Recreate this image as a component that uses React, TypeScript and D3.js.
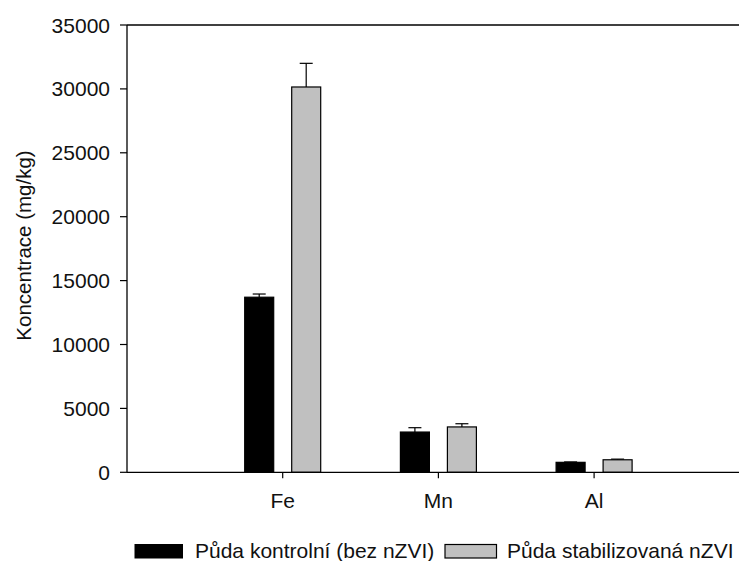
import React from "react";
import * as d3 from "d3";

const categories = ["Fe", "Mn", "Al"];
const controlValues = [13700, 3150, 780];
const controlErrors = [250, 340, 30];
const nzviValues = [30150, 3550, 980];
const nzviErrors = [1850, 250, 50];
const yTicks = [0, 5000, 10000, 15000, 20000, 25000, 30000, 35000];
const seriesNames = ["Půda kontrolní (bez nZVI)", "Půda stabilizovaná nZVI"];
const seriesColors = ["#000000", "#c0c0c0"];

export default function App() {
  const W = 739, H = 561;
  const left = 127, top = 25, bottom = 472.3;
  const font = "'Liberation Sans', Arial, sans-serif";
  const y = d3.scaleLinear().domain([0, 35000]).range([bottom, top]);
  const x = d3.scaleLinear().domain([0, 4]).range([left, left + 4 * 155.7]);
  const barW = 29;
  const off = 23.5;
  const capW = 13;
  const series = [
    { vals: controlValues, errs: controlErrors, color: seriesColors[0], dx: -off },
    { vals: nzviValues, errs: nzviErrors, color: seriesColors[1], dx: off },
  ];
  return (
    <svg width={W} height={H} style={{ position: "absolute", left: 0, top: 0 }} fontFamily={font}>
      <rect width={W} height={H} fill="#fff" />
      {series.map((s, si) =>
        categories.map((c, i) => {
          const cx = x(i + 1) + s.dx;
          const yt = y(s.vals[i]);
          const ye = y(s.vals[i] + s.errs[i]);
          return (
            <g key={si + "-" + c}>
              <line x1={cx} x2={cx} y1={yt} y2={ye} stroke="#000" strokeWidth={1.2} />
              <line x1={cx - capW / 2} x2={cx + capW / 2} y1={ye} y2={ye} stroke="#000" strokeWidth={1.2} />
              <rect x={cx - barW / 2} y={yt} width={barW} height={bottom - yt} fill={s.color} stroke="#000" strokeWidth={1.2} />
            </g>
          );
        })
      )}
      <line x1={left} x2={W} y1={top} y2={top} stroke="#000" strokeWidth={1.3} />
      <line x1={left} x2={W} y1={bottom} y2={bottom} stroke="#000" strokeWidth={1.3} />
      <line x1={left} x2={left} y1={top} y2={bottom} stroke="#000" strokeWidth={1.3} />
      {yTicks.map((t) => (
        <g key={t}>
          <line x1={left - 7} x2={left} y1={y(t)} y2={y(t)} stroke="#000" strokeWidth={1.2} />
          <text x={110} y={y(t)} dy="0.36em" textAnchor="end" fontSize={21} fill="#111">{t}</text>
        </g>
      ))}
      {categories.map((c, i) => (
        <g key={c}>
          <line x1={x(i + 1)} x2={x(i + 1)} y1={bottom} y2={bottom + 6} stroke="#000" strokeWidth={1.2} />
          <text x={x(i + 1)} y={508} textAnchor="middle" fontSize={21} fill="#111">{c}</text>
        </g>
      ))}
      <text transform={`translate(31,245.5) rotate(-90)`} textAnchor="middle" fontSize={20.5} fill="#111">Koncentrace (mg/kg)</text>
      <rect x={135} y={544.5} width={47.5} height={13.5} fill={seriesColors[0]} stroke="#000" />
      <text x={195} y={558} fontSize={21} fill="#111">{seriesNames[0]}</text>
      <rect x={445} y={544.5} width={51.5} height={13.5} fill={seriesColors[1]} stroke="#000" strokeWidth={1.2} />
      <text x={507} y={558} fontSize={21} fill="#111">{seriesNames[1]}</text>
    </svg>
  );
}
